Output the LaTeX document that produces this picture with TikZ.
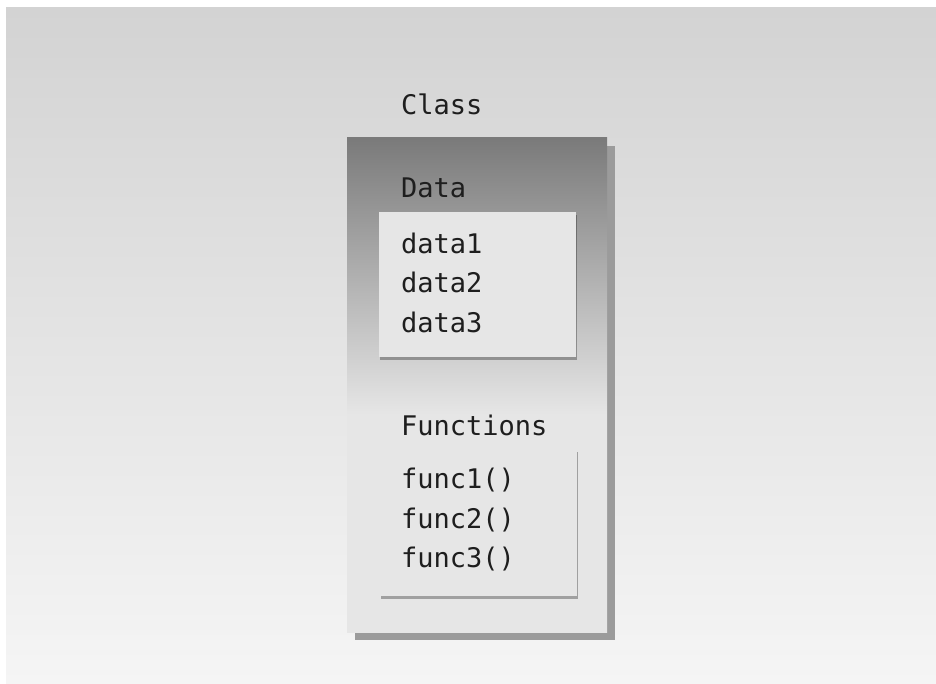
\documentclass[tikz,border=0pt]{standalone}
\usepackage{fontspec}
\setmonofont{DejaVu Sans Mono}
\usetikzlibrary{positioning,shadows}
\definecolor{bgtop}{RGB}{211,211,211}
\definecolor{bgbottom}{RGB}{245,245,245}
\definecolor{boxdark}{RGB}{122,122,122}
\definecolor{boxlight}{RGB}{230,230,230}
\definecolor{panelfill}{RGB}{230,230,230}
\definecolor{shadowgray}{RGB}{155,155,155}
\definecolor{inkgray}{RGB}{30,30,30}
\pgfdeclareverticalshading{classshade}{100bp}{color(0bp)=(boxlight); color(47bp)=(boxlight); color(75bp)=(boxdark); color(100bp)=(boxdark)}

\begin{document}
\begin{tikzpicture}[
    x=1pt,y=-1pt,
    classbox/.style={shading=classshade,minimum width=260pt,minimum height=494pt,inner sep=0pt,
      drop shadow={shadow xshift=8pt,shadow yshift=-8pt,opacity=1,fill=shadowgray}},
    panel/.style={fill=panelfill,minimum width=197pt,inner sep=0pt,
      drop shadow={shadow xshift=1pt,shadow yshift=-3pt,opacity=0.3,fill=black}},
    lbl/.style={font=\ttfamily\fontsize{27}{31}\selectfont,anchor=base west,inner sep=0pt,text=inkgray}
  ]
    \useasboundingbox (0,0) rectangle (936,684);
    \shade[top color=bgtop,bottom color=bgbottom] (6,8) rectangle (936,684);

    \node[classbox] (cls) at (477,385) {};
    \node[panel,minimum height=145pt] (datapanel) at (477.5,284.5) {};
    \node[panel,minimum height=147pt] (funcpanel) at (478.5,522.5) {};

    \node[lbl] (clslbl) at (401,115) {Class};
    \node[lbl] (datalbl) at (401,198) {Data};
    \node[lbl] (d1) at (401,254) {data1};
    \node[lbl] (d2) at (401,293) {data2};
    \node[lbl] (d3) at (401,332) {data3};
    \node[lbl] (funclbl) at (401,435) {Functions};
    \node[lbl] (f1) at (401,488) {func1()};
    \node[lbl] (f2) at (401,528) {func2()};
    \node[lbl] (f3) at (401,567) {func3()};
\end{tikzpicture}
\end{document}
